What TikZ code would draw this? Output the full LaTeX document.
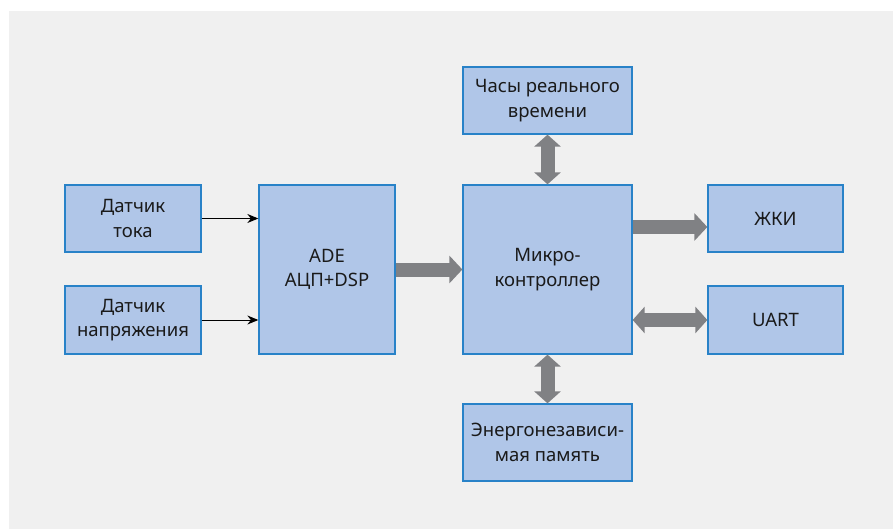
\documentclass[tikz,border=0pt]{standalone}
\usepackage{fontspec}
\setmainfont{Noto Sans}
\usetikzlibrary{arrows.meta}

\definecolor{panelgray}{RGB}{240,240,240}
\definecolor{boxfill}{RGB}{176,198,232}
\definecolor{boxline}{RGB}{40,130,200}
\definecolor{busgray}{RGB}{128,129,132}
\definecolor{inkdark}{RGB}{26,26,26}

\tikzset{
  block/.style={draw=boxline, line width=1.3pt, fill=boxfill, inner sep=0pt,
    align=center, text=inkdark,
    font=\fontsize{18.5}{24.5}\selectfont},
  signal/.style={draw=black, line width=1pt, -{Stealth[length=11pt,width=9pt]}},
  bus/.style={draw=busgray, line width=14pt, -{Triangle[length=13pt,width=27pt]}},
  dbus/.style={draw=busgray, line width=14pt,
    {Triangle[length=12pt,width=26pt]}-{Triangle[length=12pt,width=26pt]}},
}

\begin{document}
\begin{tikzpicture}[x=1pt, y=-1pt]
  % page and background panel
  \useasboundingbox (0,0) rectangle (893,529);
  \fill[white] (0,0) rectangle (893,529);
  \fill[panelgray] (9,11) rectangle (893,529);

  % blocks
  \node[block, minimum width=136pt, minimum height=67pt] (dt) at (133,218.5) {Датчик\\тока};
  \node[block, minimum width=136pt, minimum height=68pt] (dn) at (133,320) {Датчик\\напряжения};
  \node[block, minimum width=136pt, minimum height=169pt] (ade) at (327,269.5) {ADE\\АЦП+DSP};
  \node[block, minimum width=169pt, minimum height=169pt] (mc) at (547.5,269.5) {Микро-\\контроллер};
  \node[block, minimum width=169pt, minimum height=67pt] (rtc) at (547.5,100.5) {Часы реального\\времени};
  \node[block, minimum width=169pt, minimum height=77pt] (nvm) at (547.5,442.5) {Энергонезависи-\\мая память};
  \node[block, minimum width=135pt, minimum height=67pt] (lcd) at (775.5,218.5) {ЖКИ};
  \node[block, minimum width=135pt, minimum height=68pt] (uart) at (775.5,320) {UART};

  % sensor signals
  \draw[signal] (dt.east) -- (ade.west |- dt.east);
  \draw[signal] (dn.east) -- (ade.west |- dn.east);

  % data buses
  \coordinate (lcdlvl) at (670,227);
  \draw[bus] (ade.east) -- (mc.west);
  \draw[bus] (mc.east |- lcdlvl) -- (lcd.west |- lcdlvl);
  \draw[dbus] (mc.east |- uart.west) -- (uart.west);
  \draw[dbus] (rtc.south) -- (mc.north);
  \draw[dbus] (mc.south) -- (nvm.north);
\end{tikzpicture}
\end{document}
